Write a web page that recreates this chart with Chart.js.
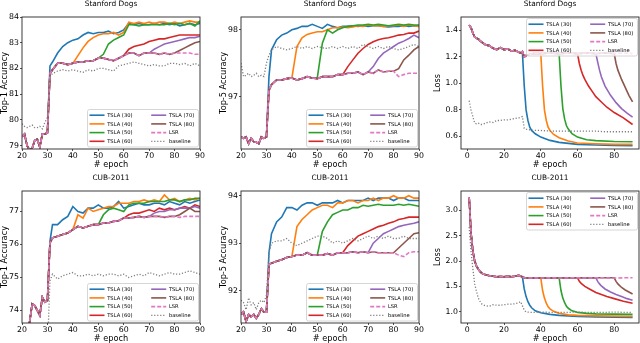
<!DOCTYPE html>
<html>
<head>
<meta charset="utf-8">
<script src="https://cdn.jsdelivr.net/npm/chart.js@4.4.0/dist/chart.umd.min.js"></script>
<style>
  html, body { margin: 0; padding: 0; background: #fff; overflow: hidden; width: 640px; height: 343px; }
  canvas { position: absolute; }
</style>
</head>
<body>
<canvas id="dogsTop1"></canvas>
<canvas id="dogsTop5"></canvas>
<canvas id="dogsLoss"></canvas>
<canvas id="cubTop1"></canvas>
<canvas id="cubTop5"></canvas>
<canvas id="cubLoss"></canvas>
<script>
// 系列名称与颜色（matplotlib tab10）
const seriesNames = ['TSLA (30)', 'TSLA (40)', 'TSLA (50)', 'TSLA (60)', 'TSLA (70)', 'TSLA (80)', 'LSR', 'baseline'];
const seriesColors = ['#1f77b4', '#ff7f0e', '#2ca02c', '#d62728', '#9467bd', '#8c564b', '#e377c2', '#7f7f7f'];
const switchEpochs = [30, 40, 50, 60, 70, 80];

// 刻度
const accXTicks = [20, 30, 40, 50, 60, 70, 80, 90];
const lossXTicks = [0, 20, 40, 60, 80];
const dogsTop1Ticks = [79, 80, 81, 82, 83, 84];
const dogsTop5Ticks = [97, 98];
const dogsLossTicks = [0.6, 0.8, 1.0, 1.2, 1.4];
const cubTop1Ticks = [74, 75, 76, 77];
const cubTop5Ticks = [92, 93, 94];
const cubLossTicks = [1.0, 1.5, 2.0, 2.5, 3.0];

// 准确率曲线的 epoch
const accEpochs = [20, 21, 22, 23, 24, 25, 26, 27, 28, 29, 30, 31, 32, 34, 36, 38, 40, 42, 44, 46, 48, 50,
  52, 54, 56, 58, 60, 62, 64, 66, 68, 70, 72, 74, 76, 78, 80, 82, 84, 86, 88, 90];

// Stanford Dogs Top-1
const dogsTop1LSR = [79.35, 79.45, 79.0, 78.82, 78.9, 79.2, 79.25, 78.95, 79.45, 79.45, 79.5, 81.8,
  81.95, 82.2, 82.2, 82.15, 82.2, 82.25, 82.25, 82.3, 82.3, 82.4, 82.4, 82.35, 82.3, 82.4, 82.5,
  82.6, 82.6, 82.5, 82.6, 82.6, 82.6, 82.55, 82.6, 82.55, 82.6, 82.6, 82.6, 82.6, 82.55, 82.55];
const dogsTop1Base = [79.85, 79.75, 79.7, 79.75, 79.8, 79.7, 79.7, 79.75, 79.65, 79.9, 80.1, 81.7,
  81.8, 81.9, 81.95, 81.9, 81.95, 81.9, 81.85, 81.95, 81.9, 82.0, 82.0, 81.95, 81.9, 82.1, 82.15,
  82.2, 82.25, 82.2, 82.15, 82.1, 82.15, 82.1, 82.1, 82.2, 82.2, 82.15, 82.2, 82.1, 82.2, 82.1];
const dogsTop1T30 = [79.5, 82.1, 82.25, 82.6, 82.85, 83.0, 83.1, 83.15, 83.3, 83.4, 83.35, 83.4, 83.4,
  83.45, 83.35, 83.4, 83.5, 83.75, 83.7, 83.75, 83.7, 83.7, 83.75, 83.7, 83.75, 83.7, 83.75, 83.65,
  83.7, 83.75, 83.7, 83.75];
const dogsTop1T40 = [82.2, 82.5, 82.8, 83.05, 83.2, 83.3, 83.35, 83.35, 83.4, 83.3, 83.4, 83.8, 83.75,
  83.8, 83.75, 83.8, 83.75, 83.8, 83.8, 83.75, 83.8, 83.75, 83.8, 83.85, 83.8, 83.8];
const dogsTop1T50 = [82.4, 82.55, 82.95, 83.1, 83.2, 83.3, 83.7, 83.7, 83.65, 83.7, 83.7, 83.7, 83.7,
  83.7, 83.75, 83.7, 83.75, 83.7, 83.75, 83.65, 83.85];
const dogsTop1T60 = [82.5, 82.75, 82.85, 82.9, 82.95, 83.05, 83.1, 83.15, 83.15, 83.2, 83.25, 83.3,
  83.3, 83.3, 83.3, 83.3];
const dogsTop1T70 = [82.6, 82.75, 82.85, 82.95, 83.0, 83.05, 83.1, 83.15, 83.2, 83.2, 83.25];
const dogsTop1T80 = [82.6, 82.7, 82.8, 82.9, 83.0, 83.05];

// Stanford Dogs Top-5
const dogsTop5LSR = [96.4, 96.38, 96.4, 96.3, 96.38, 96.33, 96.32, 96.3, 96.4, 96.38, 96.4, 97.1,
  97.18, 97.25, 97.25, 97.27, 97.28, 97.25, 97.27, 97.3, 97.28, 97.27, 97.3, 97.3, 97.3, 97.33, 97.33,
  97.35, 97.35, 97.37, 97.33, 97.37, 97.35, 97.4, 97.37, 97.38, 97.38, 97.3, 97.33, 97.35, 97.35, 97.35];
const dogsTop5Base = [97.5, 97.3, 97.32, 97.35, 97.3, 97.32, 97.35, 97.3, 97.32, 97.3, 97.5, 97.62,
  97.7, 97.75, 97.72, 97.7, 97.72, 97.75, 97.72, 97.75, 97.72, 97.75, 97.73, 97.72, 97.75, 97.72,
  97.75, 97.72, 97.75, 97.72, 97.78, 97.75, 97.72, 97.75, 97.72, 97.75, 97.72, 97.7, 97.72, 97.75, 97.78, 97.75];
const dogsTop5T30 = [96.4, 97.3, 97.7, 97.85, 97.92, 97.95, 98.0, 98.02, 98.05, 98.05, 98.08, 98.05,
  98.02, 98.08, 98.05, 98.03, 98.05, 98.05, 98.06, 98.05, 98.06, 98.05, 98.06, 98.06, 98.05, 98.04,
  98.05, 98.05, 98.06, 98.05, 98.06, 98.05];
const dogsTop5T40 = [97.28, 97.75, 97.88, 97.93, 97.95, 97.97, 97.97, 98.0, 98.03, 98.03, 98.04, 98.03,
  98.04, 98.06, 98.05, 98.07, 98.06, 98.06, 98.05, 98.06, 98.06, 98.07, 98.05, 98.07, 98.06, 98.05];
const dogsTop5T50 = [97.28, 97.8, 98.0, 97.95, 98.0, 98.03, 98.05, 98.06, 98.07, 98.07, 98.08, 98.07,
  98.08, 98.07, 98.06, 98.07, 98.08, 98.07, 98.08, 98.07, 98.07];
const dogsTop5T60 = [97.33, 97.45, 97.55, 97.65, 97.72, 97.78, 97.82, 97.85, 97.87, 97.88, 97.9, 97.92,
  97.93, 97.95, 97.95, 97.98];
const dogsTop5T70 = [97.37, 97.45, 97.57, 97.65, 97.7, 97.75, 97.8, 97.83, 97.87, 97.92, 97.88];
const dogsTop5T80 = [97.38, 97.42, 97.55, 97.62, 97.7, 97.75];

// CUB-2011 Top-1
const cubTop1LSR = [72.8, 73.0, 73.3, 73.65, 74.2, 74.15, 74.0, 73.85, 74.4, 74.25, 74.3, 76.05,
  76.2, 76.25, 76.3, 76.35, 76.45, 76.55, 76.5, 76.55, 76.6, 76.6, 76.65, 76.65, 76.7, 76.72, 76.8,
  76.8, 76.82, 76.85, 76.82, 76.85, 76.85, 76.85, 76.82, 76.85, 76.85, 76.82, 76.85, 76.85, 76.85, 76.85];
const cubTop1Base = [72.6, 72.5, 72.6, 72.5, 72.6, 72.5, 72.6, 72.5, 72.6, 72.5, 72.8, 74.9,
  75.1, 74.95, 75.05, 75.1, 75.15, 75.05, 75.05, 75.1, 75.05, 75.1, 75.05, 75.1, 75.1, 75.05, 75.1,
  75.0, 75.05, 75.1, 75.05, 75.15, 75.1, 75.05, 75.1, 75.15, 75.1, 75.1, 75.15, 75.2, 75.15, 75.1];
const cubTop1T30 = [74.3, 76.1, 76.6, 76.6, 76.75, 76.85, 77.15, 77.0, 76.95, 77.1, 77.1, 77.2, 77.1,
  77.1, 77.15, 77.3, 77.1, 77.15, 77.2, 77.25, 77.2, 77.2, 77.25, 77.25, 77.2, 77.3, 77.25, 77.2,
  77.3, 77.25, 77.3, 77.35];
const cubTop1T40 = [76.45, 76.9, 76.8, 77.1, 77.0, 77.05, 77.1, 77.15, 77.15, 77.25, 77.25, 77.25,
  77.3, 77.3, 77.35, 77.3, 77.35, 77.3, 77.5, 77.35, 77.4, 77.3, 77.35, 77.4, 77.35, 77.4];
const cubTop1T50 = [76.6, 76.9, 77.05, 77.1, 77.05, 77.0, 77.2, 77.25, 77.25, 77.25, 77.3, 77.3, 77.3,
  77.3, 77.35, 77.35, 77.3, 77.35, 77.35, 77.4, 77.4];
const cubTop1T60 = [76.8, 76.9, 76.95, 76.95, 77.0, 77.05, 77.0, 77.1, 77.05, 77.1, 77.05, 77.1,
  77.15, 77.1, 77.2, 77.15];
const cubTop1T70 = [76.85, 76.95, 77.0, 77.0, 77.05, 77.05, 77.1, 77.1, 77.1, 77.15, 77.1];
const cubTop1T80 = [76.85, 76.9, 77.0, 77.1, 77.0, 77.0];

// CUB-2011 Top-5
const cubTop5LSR = [91.5, 91.55, 91.35, 91.5, 91.45, 91.5, 91.42, 91.5, 91.62, 91.55, 91.55, 92.55,
  92.58, 92.62, 92.65, 92.7, 92.72, 92.75, 92.75, 92.8, 92.75, 92.75, 92.75, 92.78, 92.75, 92.8, 92.8,
  92.8, 92.82, 92.8, 92.82, 92.8, 92.82, 92.8, 92.8, 92.8, 92.8, 92.75, 92.72, 92.8, 92.82, 92.82];
const cubTop5Base = [91.8, 91.75, 91.6, 91.85, 91.7, 91.75, 91.6, 91.75, 91.8, 91.75, 91.9, 92.8,
  93.0, 93.05, 93.05, 93.1, 93.0, 92.95, 93.0, 93.05, 93.1, 93.15, 93.15, 93.1, 93.0, 93.05, 93.0,
  93.05, 93.1, 93.05, 93.1, 93.15, 93.1, 93.15, 93.1, 93.15, 93.1, 93.1, 93.15, 93.1, 93.1, 93.1];
const cubTop5T30 = [91.55, 92.8, 93.2, 93.45, 93.55, 93.75, 93.75, 93.7, 93.8, 93.85, 93.85, 93.8,
  93.85, 93.85, 93.85, 93.9, 93.85, 93.9, 93.9, 93.9, 93.9, 93.95, 93.9, 93.95, 93.95, 93.95, 93.9,
  93.95, 93.95, 93.9, 93.9, 93.9];
const cubTop5T40 = [92.72, 93.35, 93.5, 93.6, 93.7, 93.75, 93.8, 93.8, 93.75, 93.85, 93.85, 93.9,
  93.9, 93.85, 93.9, 93.9, 93.95, 93.9, 93.95, 93.95, 94.0, 93.95, 93.95, 94.0, 93.95, 93.95];
const cubTop5T50 = [92.75, 93.25, 93.45, 93.6, 93.65, 93.7, 93.7, 93.75, 93.75, 93.8, 93.78, 93.8,
  93.82, 93.8, 93.8, 93.8, 93.82, 93.8, 93.82, 93.8, 93.78];
const cubTop5T60 = [92.8, 92.95, 93.05, 93.15, 93.2, 93.25, 93.3, 93.35, 93.38, 93.42, 93.45, 93.5,
  93.52, 93.55, 93.55, 93.55];
const cubTop5T70 = [92.8, 93.0, 93.1, 93.2, 93.25, 93.3, 93.35, 93.38, 93.4, 93.42, 93.45];
const cubTop5T80 = [92.8, 92.9, 93.0, 93.1, 93.2, 93.22];

// 损失曲线的 epoch
const lossEpochs = [1, 2, 3, 4, 5, 6, 7, 8, 9, 10, 12, 14, 16, 18, 20, 22, 24, 26, 28, 29, 30, 31, 32,
  34, 36, 40, 45, 50, 55, 60, 65, 70, 75, 80, 85, 90];
const lossT30Ep = [30, 31, 32, 33, 34, 35, 37, 40, 45, 50, 60, 70, 80, 90];
const lossT40Ep = [40, 41, 42, 43, 44, 45, 47, 50, 55, 60, 70, 80, 90];
const lossT50Ep = [50, 51, 52, 53, 54, 55, 57, 60, 65, 70, 80, 90];
const lossT60Ep = [60, 61, 62, 63, 64, 66, 68, 70, 73, 76, 80, 85, 90];
const lossT70Ep = [70, 71, 72, 73, 75, 78, 81, 84, 87, 90];
const lossT80Ep = [80, 81, 82, 84, 86, 88, 90];

// Stanford Dogs Loss
const dogsLossLSR = [1.44, 1.42, 1.38, 1.35, 1.34, 1.335, 1.32, 1.31, 1.30, 1.29, 1.285, 1.265, 1.255,
  1.27, 1.255, 1.26, 1.245, 1.25, 1.235, 1.23, 1.24, 1.2, 1.21, 1.22, 1.225, 1.225, 1.23, 1.225, 1.23,
  1.225, 1.23, 1.225, 1.23, 1.225, 1.23, 1.225];
const dogsLossBase = [0.87, 0.80, 0.75, 0.70, 0.695, 0.70, 0.69, 0.69, 0.695, 0.70, 0.71, 0.705, 0.72,
  0.72, 0.725, 0.725, 0.73, 0.735, 0.74, 0.745, 0.75, 0.66, 0.655, 0.65, 0.645, 0.645, 0.64, 0.64,
  0.64, 0.64, 0.64, 0.64, 0.635, 0.635, 0.635, 0.635];
const dogsLossT30 = [1.23, 0.98, 0.80, 0.72, 0.67, 0.645, 0.62, 0.595, 0.57, 0.555, 0.54, 0.535, 0.532, 0.53];
const dogsLossT40 = [1.225, 0.98, 0.80, 0.72, 0.67, 0.645, 0.615, 0.59, 0.565, 0.55, 0.545, 0.54, 0.54];
const dogsLossT50 = [1.225, 0.98, 0.81, 0.73, 0.68, 0.655, 0.62, 0.595, 0.575, 0.568, 0.562, 0.56];
const dogsLossT60 = [1.225, 1.15, 1.10, 1.06, 1.03, 0.98, 0.94, 0.90, 0.86, 0.82, 0.78, 0.74, 0.69];
const dogsLossT70 = [1.225, 1.16, 1.10, 1.05, 0.98, 0.91, 0.855, 0.81, 0.775, 0.745];
const dogsLossT80 = [1.225, 1.15, 1.10, 1.03, 0.97, 0.91, 0.86];

// CUB-2011 Loss
const cubLossLSR = [3.25, 2.55, 2.2, 2.0, 1.9, 1.84, 1.79, 1.76, 1.74, 1.73, 1.71, 1.70, 1.69, 1.695,
  1.69, 1.70, 1.69, 1.70, 1.72, 1.70, 1.69, 1.67, 1.665, 1.665, 1.67, 1.665, 1.67, 1.665, 1.67, 1.67,
  1.665, 1.67, 1.67, 1.665, 1.67, 1.67];
const cubLossBase = [2.67, 2.2, 1.85, 1.55, 1.4, 1.27, 1.2, 1.15, 1.13, 1.12, 1.11, 1.14, 1.13, 1.13,
  1.14, 1.15, 1.15, 1.16, 1.18, 1.2, 1.12, 1.03, 1.0, 0.99, 0.99, 0.995, 0.99, 0.99, 0.99, 0.995,
  0.99, 0.99, 0.99, 0.995, 0.99, 0.99];
const cubLossT30 = [1.69, 1.45, 1.30, 1.20, 1.13, 1.08, 1.02, 0.98, 0.95, 0.93, 0.91, 0.90, 0.895, 0.89];
const cubLossT40 = [1.67, 1.42, 1.27, 1.17, 1.10, 1.06, 1.01, 0.97, 0.94, 0.93, 0.92, 0.915, 0.91];
const cubLossT50 = [1.67, 1.42, 1.27, 1.18, 1.11, 1.07, 1.02, 0.99, 0.97, 0.96, 0.955, 0.95];
const cubLossT60 = [1.67, 1.60, 1.56, 1.53, 1.50, 1.46, 1.42, 1.38, 1.34, 1.30, 1.26, 1.21, 1.17];
const cubLossT70 = [1.67, 1.60, 1.55, 1.51, 1.45, 1.39, 1.34, 1.30, 1.26, 1.23];
const cubLossT80 = [1.67, 1.60, 1.55, 1.48, 1.43, 1.39, 1.35];

const FONT = '"DejaVu Sans", sans-serif';

// TSLA(k) 在 k 之前与 LSR 相同
function accSeries(lsr, k, own) {
  const start = accEpochs.indexOf(k);
  return lsr.slice(0, start).concat(own).map((y, i) => ({ x: accEpochs[i], y }));
}
function lossSeries(lsr, ownEp, own) {
  const pts = [];
  lossEpochs.forEach((e, i) => { if (e < ownEp[0]) pts.push({ x: e, y: lsr[i] }); });
  ownEp.forEach((e, i) => pts.push({ x: e, y: own[i] }));
  return pts;
}
function plain(epochs, ys) {
  return ys.map((y, i) => ({ x: epochs[i], y }));
}

function makeDatasets(list) {
  return list.map((data, i) => {
    const ds = {
      label: seriesNames[i],
      data,
      borderColor: seriesColors[i],
      backgroundColor: seriesColors[i],
      borderWidth: 1.6,
      pointRadius: 0,
      tension: 0,
      fill: false,
      order: 7 - i
    };
    if (i === 6) ds.borderDash = [4, 2];
    if (i === 7) { ds.borderDash = [1.2, 1.8]; ds.borderWidth = 1.3; }
    return ds;
  });
}

// 画框、标题和图例
const panelDeco = {
  id: 'panelDeco',
  afterDatasetsDraw(chart) {
    const { ctx, chartArea: a } = chart;
    ctx.save();
    ctx.strokeStyle = '#262626';
    ctx.lineWidth = 0.9;
    ctx.strokeRect(a.left, a.top, a.right - a.left, a.bottom - a.top);
    ctx.restore();
  },
  afterDraw(chart, args, opts) {
    const { ctx, chartArea: a } = chart;
    ctx.save();
    ctx.fillStyle = '#000';
    ctx.font = '7.4px ' + FONT;
    ctx.textAlign = 'center';
    ctx.textBaseline = 'middle';
    ctx.fillText(opts.title, (a.left + a.right) / 2, a.top - 13);

    const w = 111, h = 37.5;
    const bx = a.right - 1.5 - w;
    const by = opts.loc === 'upper' ? a.top + 1.5 : a.bottom - 2 - h;
    ctx.fillStyle = 'rgba(255,255,255,0.8)';
    ctx.strokeStyle = '#cccccc';
    ctx.lineWidth = 0.8;
    ctx.beginPath();
    ctx.roundRect(bx, by, w, h, 2);
    ctx.fill();
    ctx.stroke();

    ctx.font = '5.2px ' + FONT;
    ctx.textAlign = 'left';
    chart.data.datasets.forEach((ds, i) => {
      const col = Math.floor(i / 4), row = i % 4;
      const x0 = bx + 2 + col * 61.7;
      const y = by + 5.7 + row * 8.7;
      ctx.strokeStyle = ds.borderColor;
      ctx.lineWidth = ds.borderWidth;
      ctx.setLineDash(ds.borderDash || []);
      ctx.beginPath();
      ctx.moveTo(x0, y);
      ctx.lineTo(x0 + 15, y);
      ctx.stroke();
      ctx.setLineDash([]);
      ctx.fillStyle = '#000';
      ctx.fillText(ds.label, x0 + 17.7, y + 0.3);
    });
    ctx.restore();
  }
};

function axis(min, max, ticks, title, decimals, fitKey, fitSize, titlePad) {
  return {
    type: 'linear',
    min, max,
    afterBuildTicks: s => { s.ticks = ticks.map(v => ({ value: v })); },
    afterFit: s => { s[fitKey] = fitSize; },
    grid: { drawOnChartArea: false, drawTicks: true, tickLength: 2, color: '#262626', lineWidth: 0.8 },
    border: { display: false },
    ticks: {
      font: { family: FONT, size: 7.8 },
      color: '#000',
      padding: fitKey === 'width' ? 1 : 0,
      autoSkip: false,
      maxRotation: 0,
      callback: v => Number(v).toFixed(decimals)
    },
    title: { display: true, text: title, color: '#000', font: { family: FONT, size: 8.2 }, padding: titlePad }
  };
}

function makePanel(id, p) {
  const cv = document.getElementById(id);
  cv.width = p.w; cv.height = p.h;
  cv.style.left = p.left + 'px';
  cv.style.top = p.top + 'px';
  new Chart(cv, {
    type: 'line',
    data: { datasets: makeDatasets(p.series) },
    options: {
      responsive: false,
      animation: false,
      devicePixelRatio: 1,
      layout: { padding: { top: p.padTop, right: p.padRight, left: 0, bottom: 0 } },
      plugins: {
        legend: { display: false },
        tooltip: { enabled: false },
        panelDeco: { title: p.title, loc: p.loc }
      },
      scales: {
        x: axis(p.xMin, p.xMax, p.xTicks, '# epoch', 0, 'height', 22, { top: 0, bottom: 1.5 }),
        y: axis(p.yMin, p.yMax, p.yTicks, p.yTitle, p.dec, 'width', p.yW, { top: 0, bottom: 0 })
      }
    },
    plugins: [panelDeco]
  });
}

const rows = [{ top: 0, h: 171, padTop: 17 }, { top: 171, h: 174, padTop: 20 }];
const cols = [{ left: 0, w: 206, yW: 22, padRight: 6 }, { left: 219, w: 206, yW: 22, padRight: 6 },
  { left: 433, w: 207, yW: 28, padRight: 1 }];

function accPanel(id, r, c, title, yTitle, yMin, yMax, yTicks, lsr, base, own) {
  makePanel(id, Object.assign({}, rows[r], cols[c], {
    title, yTitle, yMin, yMax, yTicks, xMin: 20, xMax: 90, xTicks: accXTicks, dec: 0, loc: 'lower',
    series: own.map((o, i) => accSeries(lsr, switchEpochs[i], o)).concat([plain(accEpochs, lsr), plain(accEpochs, base)])
  }));
}
function lossPanel(id, r, c, title, yMin, yMax, yTicks, lsr, base, own) {
  const eps = [lossT30Ep, lossT40Ep, lossT50Ep, lossT60Ep, lossT70Ep, lossT80Ep];
  makePanel(id, Object.assign({}, rows[r], cols[c], {
    title, yTitle: 'Loss', yMin, yMax, yTicks, xMin: -3.45, xMax: 93.5, xTicks: lossXTicks, dec: 1, loc: 'upper',
    series: own.map((o, i) => lossSeries(lsr, eps[i], o)).concat([plain(lossEpochs, lsr), plain(lossEpochs, base)])
  }));
}

accPanel('dogsTop1', 0, 0, 'Stanford Dogs', 'Top-1 Accuracy', 78.87, 84.0, dogsTop1Ticks, dogsTop1LSR, dogsTop1Base,
  [dogsTop1T30, dogsTop1T40, dogsTop1T50, dogsTop1T60, dogsTop1T70, dogsTop1T80]);
accPanel('dogsTop5', 0, 1, 'Stanford Dogs', 'Top-5 Accuracy', 96.22, 98.19, dogsTop5Ticks, dogsTop5LSR, dogsTop5Base,
  [dogsTop5T30, dogsTop5T40, dogsTop5T50, dogsTop5T60, dogsTop5T70, dogsTop5T80]);
lossPanel('dogsLoss', 0, 2, 'Stanford Dogs', 0.505, 1.501, dogsLossTicks, dogsLossLSR, dogsLossBase,
  [dogsLossT30, dogsLossT40, dogsLossT50, dogsLossT60, dogsLossT70, dogsLossT80]);
accPanel('cubTop1', 1, 0, 'CUB-2011', 'Top-1 Accuracy', 73.62, 77.62, cubTop1Ticks, cubTop1LSR, cubTop1Base,
  [cubTop1T30, cubTop1T40, cubTop1T50, cubTop1T60, cubTop1T70, cubTop1T80]);
accPanel('cubTop5', 1, 1, 'CUB-2011', 'Top-5 Accuracy', 91.32, 94.1, cubTop5Ticks, cubTop5LSR, cubTop5Base,
  [cubTop5T30, cubTop5T40, cubTop5T50, cubTop5T60, cubTop5T70, cubTop5T80]);
lossPanel('cubLoss', 1, 2, 'CUB-2011', 0.78, 3.38, cubLossTicks, cubLossLSR, cubLossBase,
  [cubLossT30, cubLossT40, cubLossT50, cubLossT60, cubLossT70, cubLossT80]);
</script>
</body>
</html>
